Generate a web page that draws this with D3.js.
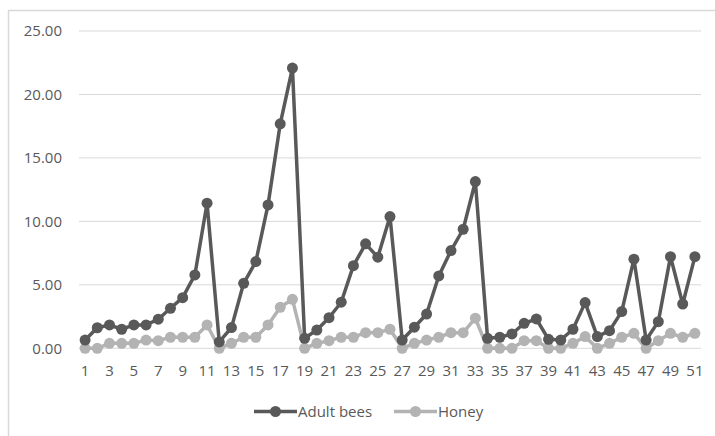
<!DOCTYPE html>
<html>
<head>
<meta charset="utf-8">
<script src="https://cdn.jsdelivr.net/npm/d3@7"></script>
<style>
  body { margin: 0; background: #fff; }
  text { font-family: "Open Sans", sans-serif; fill: #595959; }
</style>
</head>
<body>
<svg id="chart" width="715" height="436"></svg>
<script>
// weeks 1..51
const weeks = d3.range(1, 52);
const adultBees = [0.65, 1.62, 1.84, 1.5, 1.84, 1.84, 2.29, 3.15, 3.99, 5.78,
  11.43, 0.5, 1.63, 5.12, 6.83, 11.3, 17.69, 22.08, 0.79, 1.44,
  2.41, 3.63, 6.51, 8.23, 7.18, 10.38, 0.65, 1.66, 2.7, 5.7,
  7.7, 9.38, 13.14, 0.79, 0.87, 1.13, 1.97, 2.31, 0.71, 0.65,
  1.5, 3.6, 0.92, 1.39, 2.89, 7.02, 0.65, 2.1, 7.22, 3.49, 7.22];
const honey = [0, 0, 0.39, 0.39, 0.39, 0.65, 0.6, 0.87, 0.87, 0.87,
  1.84, 0, 0.39, 0.87, 0.87, 1.84, 3.23, 3.86, 0, 0.39,
  0.6, 0.87, 0.87, 1.23, 1.23, 1.5, 0, 0.39, 0.65, 0.87,
  1.23, 1.23, 2.37, 0, 0, 0, 0.6, 0.6, 0, 0,
  0.39, 0.92, 0, 0.39, 0.87, 1.18, 0, 0.6, 1.18, 0.87, 1.18];
const yTicks = [0, 5, 10, 15, 20, 25];
const seriesNames = ["Adult bees", "Honey"];
const seriesColors = ["#595959", "#b3b3b3"];

const svg = d3.select("#chart");

// outer frame (right and bottom edges fall outside the picture)
svg.append("rect")
  .attr("x", 8.5).attr("y", 10.5)
  .attr("width", 720).attr("height", 440)
  .attr("fill", "none").attr("stroke", "#d9d9d9").attr("stroke-width", 1.5);

const xscale = d3.scaleBand().domain(weeks).range([79, 701]);
const yscale = d3.scaleLinear().domain([0, 25]).range([348.3, 31]);
const cx = d => xscale(d) + xscale.bandwidth() / 2;

// gridlines
svg.append("g").selectAll("line")
  .data(yTicks)
  .join("line")
  .attr("x1", 79).attr("x2", 701)
  .attr("y1", d => yscale(d)).attr("y2", d => yscale(d))
  .attr("stroke", "#d9d9d9").attr("stroke-width", 1);

// y labels
svg.append("g").selectAll("text")
  .data(yTicks)
  .join("text")
  .attr("x", 62).attr("y", d => yscale(d))
  .attr("dy", "0.36em")
  .attr("text-anchor", "end")
  .attr("font-size", 15)
  .text(d => d.toFixed(2));

// x labels (odd weeks only)
svg.append("g").selectAll("text")
  .data(weeks.filter(d => d % 2 === 1))
  .join("text")
  .attr("x", d => cx(d)).attr("y", 376)
  .attr("text-anchor", "middle")
  .attr("font-size", 15)
  .text(d => d);

const dline = d3.line()
  .x((d, i) => cx(weeks[i]))
  .y(d => yscale(d));

const allSeries = [adultBees, honey];
// draw honey first so adult bees sits on top
[1, 0].forEach(s => {
  const g = svg.append("g");
  g.append("path")
    .datum(allSeries[s])
    .attr("fill", "none")
    .attr("stroke", seriesColors[s])
    .attr("stroke-width", 3.5)
    .attr("stroke-linejoin", "round")
    .attr("d", dline);
  g.selectAll("circle")
    .data(allSeries[s])
    .join("circle")
    .attr("cx", (d, i) => cx(weeks[i]))
    .attr("cy", d => yscale(d))
    .attr("r", 5.5)
    .attr("fill", seriesColors[s]);
});

// legend
const legendX = [254, 394];
const legend = svg.append("g");
seriesNames.forEach((name, i) => {
  const lx = legendX[i];
  legend.append("line")
    .attr("x1", lx).attr("x2", lx + 43)
    .attr("y1", 411.5).attr("y2", 411.5)
    .attr("stroke", seriesColors[i]).attr("stroke-width", 3.5);
  legend.append("circle")
    .attr("cx", lx + 21.5).attr("cy", 411.5).attr("r", 5.5)
    .attr("fill", seriesColors[i]);
  legend.append("text")
    .attr("x", lx + 44).attr("y", 411.5)
    .attr("dy", "0.36em")
    .attr("font-size", 15)
    .text(name);
});
</script>
</body>
</html>
